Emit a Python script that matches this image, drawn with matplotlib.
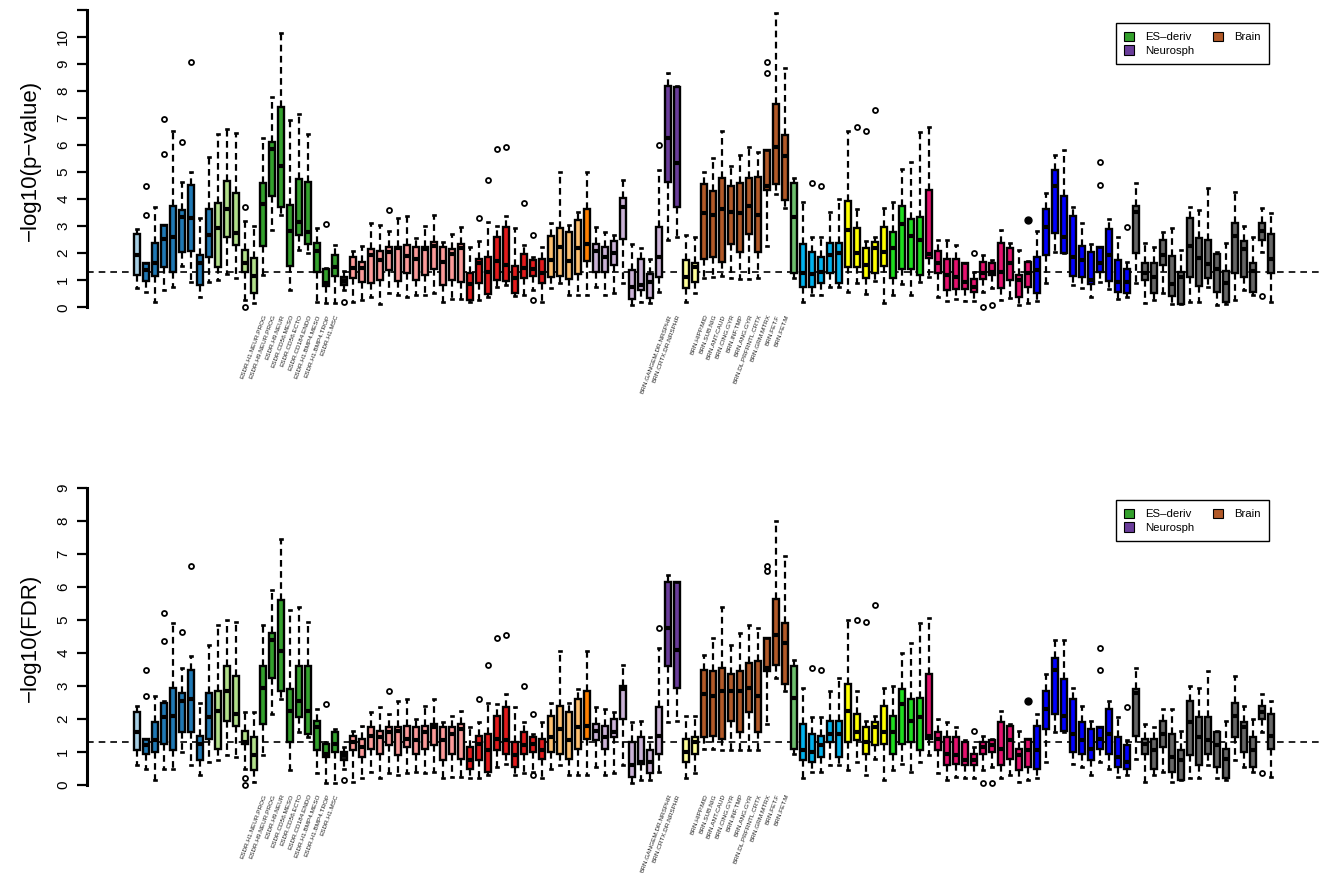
import numpy as np
import matplotlib
matplotlib.use("Agg")
import matplotlib.pyplot as plt
from matplotlib.patches import Patch

plt.rcParams['font.family'] = ['Liberation Sans', 'DejaVu Sans']

# -------------------------------------------------
# groups (in box order)
# -------------------------------------------------

group_sizes = [1, 8, 5, 9, 1, 13, 9, 4, 1, 8, 2, 2, 10, 1, 5, 5, 4, 12, 11, 16]
group_colors = ['#A6CEE3', '#1F78B4', '#B2DF8A', '#33A02C', '#1A1A1A', '#FB9A99',
                '#E31A1C', '#FDBF6F', '#FF7F00', '#CAB2D6', '#6A3D9A', '#FFFF99',
                '#B15928', '#6DBE6D', '#00B2EE', '#FFFF00', '#1EDC1E', '#E5116E',
                '#0000FF', '#666666']

esdr_names = ["ESDR.H1.NEUR.PROG", "ESDR.H9.NEUR.PROG", "ESDR.H9.NEUR", "ESDR.CD56.MESO",
              "ESDR.CD56.ECTO", "ESDR.CD184.ENDO", "ESDR.H1.BMP4.MESO", "ESDR.H1.BMP4.TROP",
              "ESDR.H1.MSC"]
nrsph_names = ["BRN.GANGEM.DR.NRSPHR", "BRN.CRTX.DR.NRSPHR"]
brain_names = ["BRN.HIPP.MID", "BRN.SUB.NIG", "BRN.ANT.CAUD", "BRN.CING.GYR", "BRN.INF.TMP",
               "BRN.ANG.GYR", "BRN.DL.PRFRNTL.CRTX", "BRN.GRM.MTRX", "BRN.FET.F", "BRN.FET.M"]
esdr_pos = list(range(15, 24))
nrsph_pos = [60, 61]
brain_pos = list(range(64, 74))

legend_names = ["ES\u2013deriv", "Neurosph", "Brain"]
legend_colors = ['#33A02C', '#6A3D9A', '#B15928']

# -------------------------------------------------
# -log10(p-value) box statistics
# -------------------------------------------------

p_lo = [0.73, 0.58, 0.21, 0.64, 0.76, 1.54, 0.95, 0.39, 0.95, 1.01,
        1.23, 1.07, 0.27, 0.15, 1.19, 2.86, 3.41, 0.64, 2.12, 2.00,
        0.21, 0.15, 0.17, 0.64, 0.21, 0.27, 0.39, 0.12, 0.52, 0.45,
        0.39, 0.45, 0.45, 0.52, 0.21, 0.30, 0.30, 0.21, 0.27, 0.39,
        0.76, 0.82, 0.42, 0.45, 0.64, 0.21, 0.70, 0.89, 0.45, 0.45,
        0.45, 0.76, 0.45, 0.52, 0.89, 0.08, 0.21, 0.15, 0.58, 2.49,
        2.59, 0.21, 0.54, 1.09, 1.13, 1.16, 1.07, 1.03, 1.03, 1.07,
        2.27, 4.19, 3.66, 1.07, 0.21, 0.45, 0.45, 0.76, 0.76, 0.58,
        0.89, 0.49, 0.98, 0.15, 0.45, 0.86, 0.45, 0.95, 1.13, 0.39,
        0.24, 0.30, 0.24, 0.24, 0.58, 0.70, 0.27, 0.33, 0.08, 0.17,
        0.24, 0.89, 2.05, 2.00, 0.82, 0.70, 0.39, 0.95, 0.67, 0.30,
        0.39, 0.91, 0.15, 0.27, 0.54, 0.12, 0.12, 0.21, 0.21, 0.76,
        0.08, 0.12, 0.27, 0.64, 0.45, 2.05, 0.21]
p_q1 = [1.21, 0.98, 1.17, 1.50, 1.32, 2.03, 2.09, 0.82, 1.85, 1.50,
        2.61, 2.30, 1.32, 0.54, 2.27, 4.13, 3.70, 1.54, 2.67, 2.34,
        1.29, 0.80, 1.16, 0.82, 1.07, 0.95, 0.91, 1.01, 1.38, 0.97,
        1.28, 1.01, 1.19, 1.40, 0.82, 1.01, 0.95, 0.28, 0.89, 0.49,
        1.01, 0.97, 0.54, 1.07, 1.16, 0.91, 1.13, 1.17, 1.03, 1.23,
        1.72, 1.32, 1.32, 1.56, 2.51, 0.30, 0.64, 0.35, 1.11, 4.62,
        3.72, 0.70, 0.95, 1.77, 1.87, 1.69, 2.33, 2.05, 2.71, 2.03,
        4.33, 4.55, 3.97, 1.26, 0.76, 0.76, 0.91, 1.28, 0.91, 1.50,
        1.50, 1.07, 1.26, 1.54, 1.07, 1.40, 1.40, 1.19, 1.81, 1.28,
        0.64, 0.67, 0.67, 0.58, 1.03, 1.19, 0.70, 1.01, 0.39, 0.76,
        0.52, 1.93, 2.76, 2.02, 1.16, 1.13, 0.86, 1.29, 0.97, 0.55,
        0.52, 2.00, 1.01, 0.52, 1.56, 0.42, 0.12, 1.11, 0.80, 1.07,
        0.58, 0.21, 1.26, 1.13, 0.58, 2.49, 1.26]
p_med = [1.95, 1.38, 1.63, 2.53, 2.61, 3.35, 3.29, 1.63, 2.67, 2.94,
         3.65, 2.76, 1.63, 1.17, 3.81, 5.84, 5.22, 2.82, 3.16, 2.79,
         2.09, 0.90, 1.50, 0.97, 1.46, 1.46, 1.93, 1.75, 2.05, 2.18,
         1.91, 1.77, 2.15, 2.27, 1.69, 1.97, 2.20, 0.87, 1.63, 1.32,
         1.71, 1.56, 1.07, 1.44, 1.40, 1.28, 1.75, 2.22, 1.72, 2.18,
         2.34, 2.09, 1.85, 2.00, 3.70, 0.74, 0.82, 0.95, 1.87, 6.27,
         5.32, 1.11, 1.50, 3.47, 3.41, 3.62, 3.53, 3.50, 3.74, 3.41,
         4.48, 5.94, 5.59, 3.33, 1.26, 1.22, 1.32, 1.93, 2.00, 2.86,
         2.00, 1.56, 2.18, 2.03, 2.20, 3.08, 2.65, 2.49, 1.97, 1.63,
         1.19, 1.13, 0.95, 0.76, 1.28, 1.32, 1.32, 1.65, 1.01, 1.26,
         1.38, 2.98, 4.48, 2.61, 1.87, 1.75, 1.01, 1.63, 1.93, 0.95,
         0.95, 3.53, 1.28, 1.13, 1.93, 0.86, 1.11, 2.28, 1.81, 1.59,
         1.40, 0.91, 2.63, 2.14, 1.35, 2.82, 1.77]
p_q3 = [2.69, 1.63, 2.36, 3.04, 3.74, 3.60, 4.53, 1.92, 3.65, 3.84,
        4.68, 4.24, 2.13, 1.82, 4.61, 6.10, 7.41, 3.78, 4.75, 4.64,
        2.39, 1.42, 1.93, 1.13, 1.87, 1.69, 2.15, 2.09, 2.22, 2.22,
        2.30, 2.22, 2.24, 2.42, 2.24, 2.15, 2.33, 1.28, 1.77, 1.87,
        2.61, 2.96, 1.54, 1.97, 1.75, 1.77, 2.65, 2.94, 2.77, 3.23,
        3.62, 2.34, 2.22, 2.46, 4.03, 1.38, 1.77, 1.23, 2.96, 8.19,
        8.13, 1.75, 1.63, 4.55, 4.31, 4.77, 4.49, 4.61, 4.79, 4.83,
        5.81, 7.51, 6.37, 4.58, 2.34, 2.05, 1.85, 2.39, 2.39, 3.94,
        2.92, 2.20, 2.42, 2.98, 2.79, 3.76, 3.26, 3.35, 4.33, 2.09,
        1.77, 1.77, 1.63, 1.05, 1.69, 1.63, 2.36, 2.20, 1.19, 1.69,
        1.85, 3.63, 5.07, 4.11, 3.37, 2.28, 2.03, 2.22, 2.89, 1.75,
        1.42, 3.74, 1.63, 1.65, 2.49, 1.90, 1.32, 3.29, 2.55, 2.49,
        1.97, 1.35, 3.13, 2.46, 1.63, 3.10, 2.70]
p_hi = [2.91, 1.65, 3.70, 3.05, 6.53, 4.64, 5.01, 3.31, 5.57, 6.39,
        6.58, 6.45, 3.20, 3.00, 6.25, 7.78, 10.13, 6.92, 7.13, 6.39,
        2.94, 1.45, 2.30, 1.35, 2.09, 2.28, 3.13, 3.04, 2.82, 3.29,
        3.37, 2.55, 3.00, 3.41, 2.42, 2.70, 2.96, 2.22, 2.46, 3.16,
        3.00, 3.37, 2.94, 2.30, 1.85, 2.24, 3.10, 4.99, 3.04, 3.53,
        4.99, 2.98, 2.79, 2.67, 4.70, 2.33, 2.18, 1.77, 5.07, 8.65,
        8.18, 2.67, 2.59, 5.01, 5.51, 6.53, 5.22, 5.63, 5.94, 5.75,
        5.81, 10.86, 8.83, 4.79, 3.90, 2.59, 2.61, 3.53, 3.99, 6.53,
        3.62, 2.46, 2.59, 3.66, 3.90, 5.10, 5.38, 6.49, 6.67, 2.49,
        2.49, 2.30, 1.65, 1.32, 1.93, 1.75, 2.86, 2.36, 2.12, 1.70,
        2.82, 4.21, 5.63, 5.81, 3.72, 3.13, 2.34, 2.22, 3.25, 2.61,
        1.69, 4.61, 2.39, 2.24, 2.79, 2.92, 2.12, 3.72, 3.60, 4.40,
        2.05, 2.36, 4.27, 3.00, 2.59, 3.66, 3.47]
p_out = {2: [4.48, 3.41], 4: [6.96, 5.67], 6: [6.10], 7: [9.05], 13: [3.71, 0.01],
         22: [3.08], 24: [0.19], 29: [3.60], 39: [3.31], 40: [4.72], 41: [5.85],
         42: [5.94], 44: [3.84], 45: [2.67, 0.27], 59: [6.00], 71: [9.08, 8.67],
         76: [4.58], 77: [4.49], 81: [6.67], 82: [6.52], 83: [7.29], 94: [2.02],
         95: [0.02], 96: [0.08], 108: [5.38, 4.52], 111: [2.98], 126: [0.43]}
p_dense = {100: [3.23]}

# -------------------------------------------------
# -log10(FDR) box statistics
# -------------------------------------------------

f_lo = [0.60, 0.50, 0.15, 0.50, 0.50, 1.00, 0.60, 0.30, 0.70, 0.75,
        0.90, 0.85, 0.50, 0.10, 0.90, 2.15, 2.60, 0.45, 1.60, 1.45,
        0.35, 0.05, 0.05, 0.50, 0.10, 0.20, 0.40, 0.20, 0.35, 0.30,
        0.35, 0.40, 0.35, 0.40, 0.20, 0.25, 0.25, 0.20, 0.20, 0.30,
        0.55, 0.65, 0.30, 0.35, 0.40, 0.20, 0.50, 0.60, 0.30, 0.30,
        0.30, 0.55, 0.30, 0.35, 0.60, 0.05, 0.15, 0.15, 0.40, 1.90,
        1.95, 0.20, 0.35, 1.10, 1.10, 1.05, 1.05, 1.05, 1.05, 1.05,
        1.85, 3.25, 2.85, 0.95, 0.20, 0.40, 0.40, 0.60, 0.60, 0.45,
        0.70, 0.30, 0.80, 0.15, 0.45, 0.65, 0.40, 0.70, 0.90, 0.35,
        0.15, 0.25, 0.20, 0.20, 0.45, 0.55, 0.20, 0.30, 0.10, 0.15,
        0.20, 0.70, 1.60, 1.60, 0.65, 0.55, 0.30, 0.70, 0.50, 0.25,
        0.30, 0.80, 0.10, 0.30, 0.40, 0.10, 0.15, 0.20, 0.20, 0.60,
        0.20, 0.15, 0.75, 0.55, 0.40, 1.60, 0.25]
f_q1 = [1.05, 0.95, 1.00, 1.25, 1.05, 1.60, 1.60, 0.75, 1.40, 1.10,
        1.95, 1.80, 1.25, 0.45, 1.85, 3.25, 2.85, 1.30, 2.05, 1.55,
        1.05, 0.85, 1.00, 0.75, 1.05, 0.85, 1.10, 0.95, 1.20, 0.90,
        1.15, 0.95, 1.10, 1.20, 0.75, 0.95, 0.80, 0.50, 0.75, 0.40,
        1.05, 0.95, 0.55, 0.95, 1.00, 0.80, 1.00, 0.95, 0.80, 1.10,
        1.40, 1.35, 1.10, 1.45, 2.00, 0.25, 0.65, 0.35, 0.95, 3.60,
        2.95, 0.70, 0.95, 1.45, 1.50, 1.40, 1.95, 1.60, 2.20, 1.60,
        3.45, 3.65, 3.05, 1.10, 0.75, 0.70, 0.85, 1.30, 0.85, 1.30,
        1.35, 0.95, 1.20, 1.25, 0.95, 1.25, 1.30, 1.05, 1.40, 1.05,
        0.60, 0.65, 0.60, 0.60, 0.95, 1.00, 0.60, 0.80, 0.45, 0.55,
        0.50, 1.70, 2.15, 1.65, 1.00, 0.95, 0.75, 1.10, 0.95, 0.55,
        0.50, 1.50, 0.95, 0.50, 1.15, 0.40, 0.15, 0.90, 0.60, 0.95,
        0.55, 0.20, 1.45, 1.00, 0.55, 2.00, 1.10]
f_med = [1.60, 1.20, 1.35, 2.05, 2.10, 2.55, 2.60, 1.25, 2.05, 2.25,
         2.85, 2.15, 1.30, 0.90, 2.95, 4.40, 4.05, 2.25, 2.55, 2.25,
         1.75, 0.95, 1.25, 0.90, 1.30, 1.15, 1.50, 1.45, 1.60, 1.65,
         1.40, 1.35, 1.60, 1.75, 1.35, 1.55, 1.70, 0.75, 1.25, 1.05,
         1.40, 1.35, 0.90, 1.20, 1.25, 1.05, 1.45, 1.70, 1.35, 1.75,
         1.80, 1.65, 1.45, 1.60, 2.90, 0.60, 0.70, 0.70, 1.50, 4.75,
         4.10, 1.00, 1.30, 2.75, 2.70, 2.85, 2.85, 2.85, 2.95, 2.70,
         3.55, 4.55, 4.30, 2.65, 1.05, 1.00, 1.20, 1.55, 1.55, 2.25,
         1.60, 1.30, 1.75, 1.60, 1.60, 2.45, 1.95, 2.05, 1.50, 1.40,
         0.95, 0.90, 0.75, 0.75, 1.15, 1.20, 1.10, 1.35, 0.90, 1.05,
         1.05, 2.30, 3.50, 2.10, 1.55, 1.35, 1.10, 1.40, 1.55, 0.85,
         0.70, 2.80, 1.25, 1.05, 1.55, 0.85, 0.75, 1.90, 1.45, 1.35,
         1.20, 0.80, 2.10, 1.75, 1.05, 2.20, 1.50]
f_q3 = [2.20, 1.40, 1.90, 2.50, 2.95, 2.80, 3.50, 1.50, 2.80, 2.85,
        3.60, 3.30, 1.65, 1.45, 3.60, 4.60, 5.60, 2.90, 3.60, 3.60,
        1.95, 1.25, 1.60, 1.00, 1.50, 1.40, 1.75, 1.65, 1.75, 1.75,
        1.80, 1.75, 1.80, 1.85, 1.75, 1.75, 1.85, 1.15, 1.50, 1.55,
        2.10, 2.35, 1.30, 1.60, 1.45, 1.40, 2.10, 2.40, 2.20, 2.60,
        2.85, 1.85, 1.80, 2.00, 3.00, 1.30, 1.45, 1.05, 2.35, 6.15,
        6.15, 1.40, 1.45, 3.50, 3.45, 3.55, 3.35, 3.45, 3.70, 3.75,
        4.45, 5.65, 4.90, 3.60, 1.85, 1.55, 1.50, 1.95, 1.95, 3.05,
        2.15, 1.75, 1.90, 2.40, 2.10, 2.90, 2.60, 2.65, 3.35, 1.60,
        1.45, 1.45, 1.30, 0.95, 1.30, 1.35, 1.90, 1.80, 1.10, 1.40,
        1.80, 2.85, 3.85, 3.20, 2.60, 1.90, 1.70, 1.75, 2.30, 1.45,
        1.20, 2.90, 1.40, 1.40, 1.95, 1.55, 1.05, 2.55, 2.05, 2.05,
        1.60, 1.10, 2.50, 1.90, 1.45, 2.40, 2.15]
f_hi = [2.40, 1.40, 2.70, 2.55, 4.90, 3.55, 3.90, 2.50, 4.25, 4.85,
        5.00, 4.95, 2.20, 2.20, 4.85, 5.90, 7.45, 5.30, 5.40, 4.95,
        2.30, 1.30, 1.70, 1.15, 1.65, 1.80, 2.20, 2.35, 2.15, 2.55,
        2.60, 2.00, 2.40, 2.60, 1.90, 2.10, 2.25, 1.75, 1.90, 2.50,
        2.45, 2.75, 2.35, 1.90, 1.55, 1.90, 2.50, 4.05, 2.50, 2.90,
        4.05, 2.35, 2.30, 2.20, 3.65, 1.90, 1.95, 1.45, 4.15, 6.35,
        6.15, 2.10, 2.10, 3.95, 4.45, 5.40, 4.25, 4.60, 4.85, 4.75,
        4.45, 8.00, 6.95, 3.80, 2.95, 2.05, 2.05, 2.85, 3.25, 5.00,
        2.85, 1.95, 2.10, 2.95, 3.00, 4.00, 4.30, 4.90, 5.05, 2.00,
        1.90, 1.75, 1.35, 1.15, 1.50, 1.40, 2.25, 1.85, 1.65, 1.40,
        2.15, 3.35, 4.40, 4.40, 2.95, 2.40, 1.95, 1.75, 2.55, 2.05,
        1.35, 3.55, 1.85, 1.75, 2.30, 2.30, 1.65, 3.00, 2.95, 3.45,
        1.65, 1.95, 3.30, 2.40, 2.00, 2.75, 2.55]
f_out = {2: [3.50, 2.70], 4: [5.20, 4.35], 6: [4.65], 7: [6.65], 13: [0.20, 0.00],
         22: [2.45], 24: [0.15], 29: [2.85], 39: [2.60], 40: [3.65], 41: [4.45],
         42: [4.55], 44: [3.00], 45: [2.15, 0.30], 59: [4.75], 71: [6.65, 6.50],
         76: [3.55], 77: [3.50], 81: [5.00], 82: [4.95], 83: [5.45], 94: [1.65],
         95: [0.05], 96: [0.05], 108: [4.15, 3.50], 111: [2.35], 126: [0.35]}
f_dense = {100: [2.55]}

n = len(p_med)
box_colors = []
for size, col in zip(group_sizes, group_colors):
    box_colors += [col] * size

# -------------------------------------------------
# Plot
# -------------------------------------------------

fig = plt.figure(figsize=(13.26, 8.73), dpi=100)
W, H = 1326.0, 873.0


def panel(rect, lo, q1, med, q3, hi, out, dense, ylim, ntick, label_y, ylabel, leg_top):
    ax = fig.add_axes(rect)
    stats = []
    for i in range(n):
        stats.append(dict(whislo=lo[i], q1=q1[i], med=med[i], q3=q3[i], whishi=hi[i],
                          fliers=out.get(i + 1, [])))
    bp = ax.bxp(stats, positions=np.arange(1, n + 1), widths=0.68, capwidths=0.32,
                patch_artist=True, showfliers=True,
                boxprops=dict(edgecolor='black', linewidth=1.7),
                medianprops=dict(color='black', linewidth=3.0, solid_capstyle='butt'),
                whiskerprops=dict(color='black', linewidth=1.6, linestyle=(0, (3, 2))),
                capprops=dict(color='black', linewidth=1.9),
                flierprops=dict(marker='o', markersize=3.6, markerfacecolor='none',
                                markeredgecolor='black', markeredgewidth=1.3))
    for patch, col in zip(bp['boxes'], box_colors):
        patch.set_facecolor(col)
    for k, vals in dense.items():
        ax.plot([k] * len(vals), vals, 'o', color='black', markersize=5, zorder=5)

    ax.axhline(1.301, color='black', linestyle=(0, (4, 3)), linewidth=1.2, zorder=1)

    ax.set_xlim(-4.58, 132.58)
    ax.set_ylim(*ylim)
    for s in ['top', 'right', 'bottom']:
        ax.spines[s].set_visible(False)
    ax.spines['left'].set_linewidth(2.2)
    ax.spines['left'].set_bounds(0, ntick)
    ax.set_xticks([])
    ax.set_yticks(range(0, ntick + 1))
    ax.set_yticklabels([str(t) if t <= 10 else '' for t in range(0, ntick + 1)],
                       rotation=90, va='center', fontsize=11)
    ax.tick_params(axis='y', length=7, width=1.6, pad=5)
    ax.set_ylabel(ylabel, fontsize=16, labelpad=11)

    for names, pos in [(esdr_names, esdr_pos), (nrsph_names, nrsph_pos), (brain_names, brain_pos)]:
        for nm, p in zip(names, pos):
            ax.text(p + 0.25, label_y, nm, rotation=70, ha='right', va='center',
                    rotation_mode='anchor', fontsize=4.6, color='#222222', clip_on=False)

    handles = [Patch(facecolor=c, edgecolor='black', linewidth=0.8) for c in legend_colors]
    leg = ax.legend(handles, legend_names, loc='upper right', ncol=2,
                    bbox_to_anchor=(1269 / W, 1 - leg_top / H), bbox_transform=fig.transFigure,
                    borderaxespad=0, fontsize=8.2, fancybox=False, framealpha=1,
                    handlelength=0.85, handleheight=0.85, handletextpad=1.0,
                    columnspacing=1.6, labelspacing=0.3, borderpad=0.75)
    leg.get_frame().set_edgecolor('black')
    leg.get_frame().set_linewidth(1.0)
    return ax


left = 86.8 / W
width = 1234.4 / W

panel([left, 1 - 319.2 / H, width, 317.7 / H], p_lo, p_q1, p_med, p_q3, p_hi, p_out, p_dense,
      (-0.44, 11.3), 11, -0.28, "\u2212log10(p\u2212value)", 23)
panel([left, 1 - 796.9 / H, width, 318.8 / H], f_lo, f_q1, f_med, f_q3, f_hi, f_out, f_dense,
      (-0.36, 9.3), 9, -0.28, "\u2212log10(FDR)", 500)

fig.savefig("out.png", dpi=100)
